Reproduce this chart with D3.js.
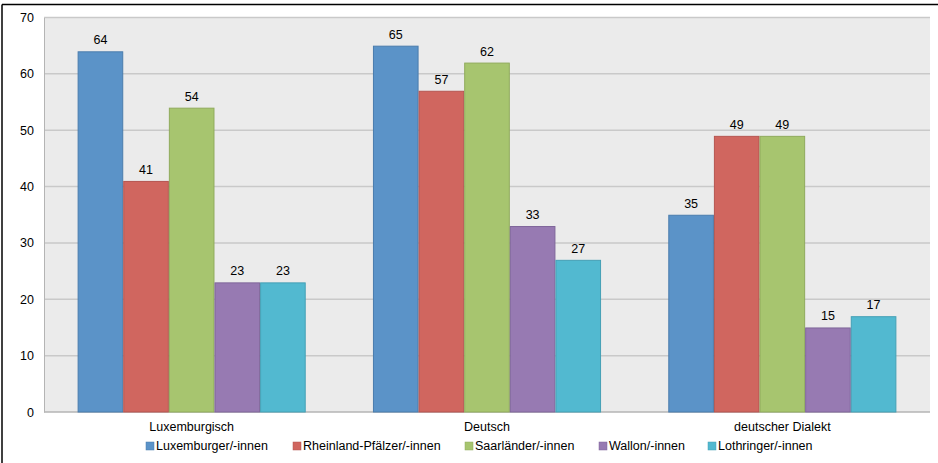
<!DOCTYPE html>
<html>
<head>
<meta charset="utf-8">
<script src="https://cdn.jsdelivr.net/npm/d3@7"></script>
<style>
html,body{margin:0;padding:0;background:#fff;}
svg{display:block;font-family:"Liberation Sans",Arial,Helvetica,sans-serif;}
</style>
</head>
<body>
<svg id="chart" width="938" height="463"></svg>
<script>
const categories = ["Luxemburgisch", "Deutsch", "deutscher Dialekt"];
const seriesNames = ["Luxemburger/-innen", "Rheinland-Pfälzer/-innen", "Saarländer/-innen", "Wallon/-innen", "Lothringer/-innen"];
const luxemburger = [64, 65, 35];
const rheinlandPfaelzer = [41, 57, 49];
const saarlaender = [54, 62, 49];
const wallonen = [23, 33, 15];
const lothringer = [23, 27, 17];
const yTicks = [0, 10, 20, 30, 40, 50, 60, 70];
const seriesValues = [luxemburger, rheinlandPfaelzer, saarlaender, wallonen, lothringer];
const colors = ["#5b93c8", "#d0665f", "#a7c56f", "#977ab2", "#52b9d0"];
const strokes = ["#4a7cad", "#b55550", "#90ab5c", "#7f669a", "#44a0b5"];

const svg = d3.select("#chart");
const W = 938, H = 463;
const m = {left: 44, right: 8, top: 17.5, bottom: 51};
const x0 = d3.scaleBand().domain(categories).range([m.left, W - m.right]).paddingInner(0).paddingOuter(0);
const x1 = d3.scaleBand().domain(d3.range(seriesNames.length)).range([0, x0.bandwidth()]).paddingOuter(0.737).paddingInner(0);
const y = d3.scaleLinear().domain([0, 70]).range([H - m.bottom, m.top]);

// outer frame
svg.append("line").attr("x1", 2).attr("x2", 2).attr("y1", 4.5).attr("y2", H).attr("stroke", "#000").attr("stroke-width", 1.5);
svg.append("line").attr("x1", 2).attr("x2", W).attr("y1", 4.5).attr("y2", 4.5).attr("stroke", "#000").attr("stroke-width", 1.5);

// plot background
svg.append("rect").attr("x", m.left).attr("y", m.top).attr("width", W - m.right - m.left).attr("height", y(0) - m.top).attr("fill", "#ebebeb");

// grid
svg.append("g").selectAll("line").data(yTicks.filter(d => d > 0)).join("line")
  .attr("x1", m.left).attr("x2", W - m.right)
  .attr("y1", d => y(d)).attr("y2", d => y(d))
  .attr("stroke", "#c9c9c9").attr("stroke-width", 1.5);

// y axis
const yAxis = d3.axisLeft(y).tickValues(yTicks).tickSize(0).tickPadding(10);
const gy = svg.append("g").attr("transform", `translate(${m.left},0)`).call(yAxis);
gy.select(".domain").attr("stroke", "#b4b4b4").attr("stroke-width", 1);
gy.selectAll("text").attr("font-size", "12.5px").attr("fill", "#000").attr("font-family", "Liberation Sans, Arial, sans-serif");

// x axis baseline
svg.append("line").attr("x1", m.left).attr("x2", W - m.right).attr("y1", y(0)).attr("y2", y(0)).attr("stroke", "#b4b4b4").attr("stroke-width", 1.5);

// bars
const groups = svg.append("g").selectAll("g").data(categories).join("g")
  .attr("transform", d => `translate(${x0(d)},0)`);
groups.each(function(cat, ci) {
  const g = d3.select(this);
  seriesValues.forEach((vals, si) => {
    const v = vals[ci];
    g.append("rect")
      .attr("x", x1(si) + 0.5).attr("y", y(v) + 0.5)
      .attr("width", x1.bandwidth() - 1).attr("height", y(0) - y(v) - 0.5)
      .attr("fill", colors[si]).attr("stroke", strokes[si]).attr("stroke-width", 1);
    g.append("text")
      .attr("x", x1(si) + x1.bandwidth() / 2).attr("y", y(v) - 7)
      .attr("text-anchor", "middle").attr("font-size", "12.5px").attr("fill", "#000")
      .text(v);
  });
});

// x axis labels
const xAxis = d3.axisBottom(x0).tickSize(0).tickPadding(10);
const gx = svg.append("g").attr("transform", `translate(0,${y(0)})`).call(xAxis);
gx.select(".domain").remove();
gx.selectAll("text").attr("font-size", "12.5px").attr("fill", "#000").attr("font-family", "Liberation Sans, Arial, sans-serif");

// legend
const legendX = [146, 293, 465, 599, 708];
const lg = svg.append("g").selectAll("g").data(seriesNames).join("g")
  .attr("transform", (d, i) => `translate(${legendX[i]},450)`);
lg.append("rect").attr("x", 0).attr("y", -8).attr("width", 8).attr("height", 8)
  .attr("fill", (d, i) => colors[i]).attr("stroke", (d, i) => strokes[i]).attr("stroke-width", 0.5);
lg.append("text").attr("x", 10).attr("y", 0).attr("font-size", "12.5px").attr("fill", "#000").text(d => d);
</script>
</body>
</html>
